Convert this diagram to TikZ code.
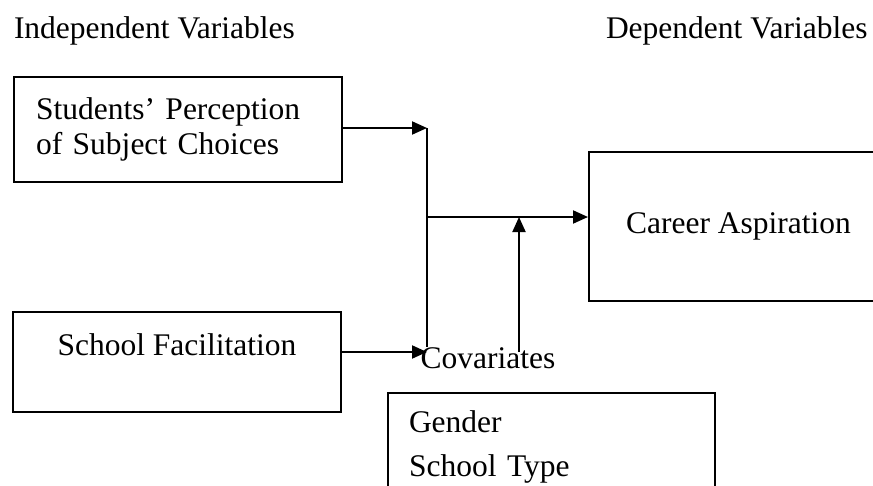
\documentclass[tikz,border=0pt]{standalone}
\usepackage{fontspec}
\setmainfont{Liberation Serif}
\usetikzlibrary{arrows.meta}

\begin{document}
\begin{tikzpicture}[x=1pt,y=-1pt,line width=2pt,
  every node/.style={font=\fontsize{31.5}{35}\selectfont,inner sep=0pt},
  varbox/.style={draw,line width=2pt},
  conn/.style={-{Triangle[length=15pt,width=13pt]}}]
  \useasboundingbox (0,0) rectangle (873,485);
  \node[anchor=base west] (indep) at (13,38) {Independent Variables};
  \node[anchor=base west] (dep) at (605,38) {Dependent Variables};

  \node[varbox,minimum width=328pt,minimum height=105pt,text width=284pt,align=left]
    (percep) at (178,129.5) {Students' Perception\\of Subject Choices};
  \node[varbox,minimum width=328pt,minimum height=100pt,align=center]
    (facil) at (177,362) {School Facilitation\\\mbox{}};
  \node[varbox,minimum width=299pt,minimum height=149pt]
    (career) at (738.5,226.5) {Career Aspiration};
  \node[varbox,anchor=north west,minimum width=327pt,minimum height=108pt,text width=285pt,align=left]
    (covbox) at (387,392) {Gender\\[9pt]School Type};
  \node[anchor=base] (covlabel) at (488,368) {Covariates};

  \coordinate (upper) at (427,128);
  \coordinate (lower) at (427,352);
  \coordinate (mid) at (427,217);
  \coordinate (covtop) at (519,217);
  \coordinate (covfoot) at (519,352);

  \draw[conn] (percep.east |- upper) -- (upper);
  \draw[conn] (facil.east |- lower) -- (lower);
  \draw (upper) -- ([yshift=5pt]lower);
  \draw[conn] (mid) -- (mid -| career.west);
  \draw[conn] (covfoot) -- (covtop);
\end{tikzpicture}
\end{document}
